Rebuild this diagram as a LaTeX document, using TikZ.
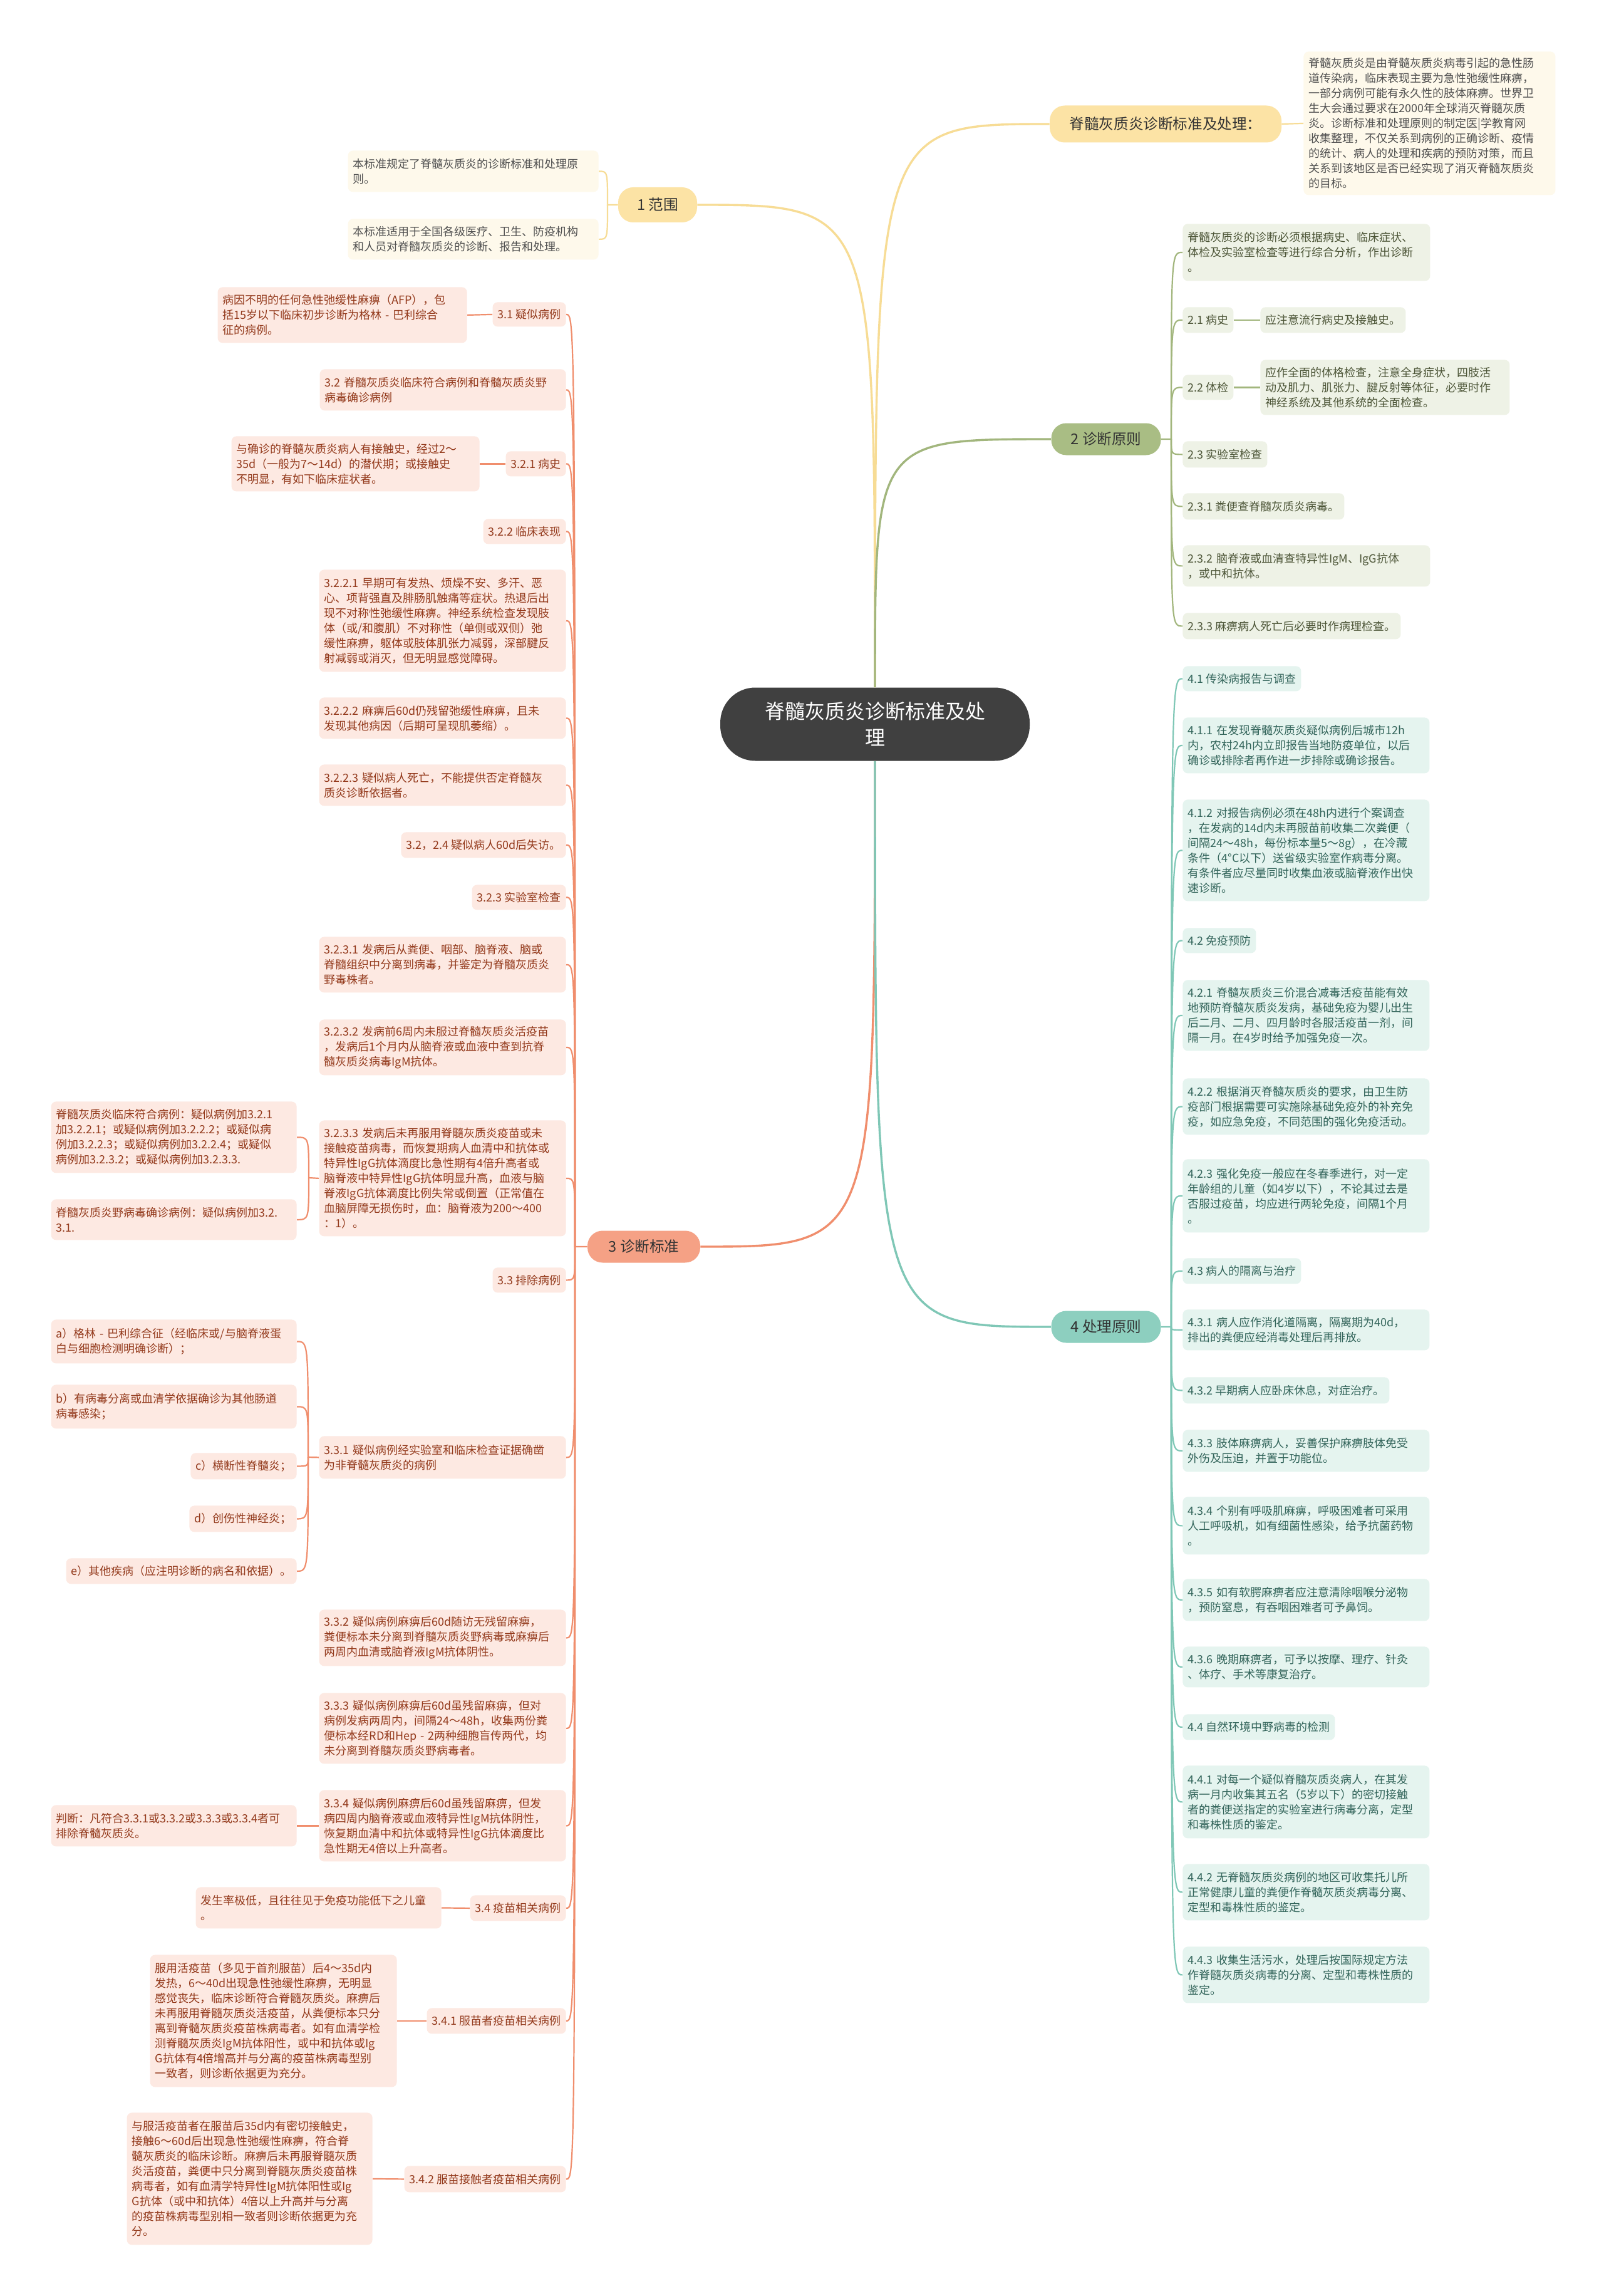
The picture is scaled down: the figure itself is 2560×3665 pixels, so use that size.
\documentclass[tikz,border=0pt]{standalone}
\usepackage{fontspec}
\setmainfont{Noto Sans CJK SC}
\usepackage{xcolor}
\usepackage{tikz}

\definecolor{ttl}{HTML}{404040}
\definecolor{pilltext}{HTML}{333333}
\definecolor{ylw}{HTML}{FCE3A5}
\definecolor{ylwline}{HTML}{F7DC95}
\definecolor{ylwleaf}{HTML}{FEF9EB}
\definecolor{ylwtext}{HTML}{505050}
\definecolor{grn}{HTML}{A9BD84}
\definecolor{grnline}{HTML}{A2B67D}
\definecolor{grnleaf}{HTML}{EEF2E6}
\definecolor{grntext}{HTML}{4C5537}
\definecolor{org}{HTML}{F5A185}
\definecolor{orgline}{HTML}{F08E6D}
\definecolor{orgleaf}{HTML}{FDE9E2}
\definecolor{orgtext}{HTML}{93391B}
\definecolor{tea}{HTML}{8DCFBF}
\definecolor{tealine}{HTML}{7FC7B6}
\definecolor{tealeaf}{HTML}{E5F4EF}
\definecolor{teatext}{HTML}{32645A}

\newcommand\leaffont{\fontsize{9pt}{12pt}\selectfont}
\newcommand\brfont{\fontsize{11.8pt}{14pt}\selectfont}
\newcommand\ttlfont{\fontsize{16pt}{21pt}\selectfont}

\tikzset{
  cell/.style={rounded corners=4pt, inner xsep=4pt, inner ysep=2pt, align=left, font=\leaffont},
  yleaf/.style={cell, fill=ylwleaf, text=ylwtext},
  gleaf/.style={cell, fill=grnleaf, text=grntext},
  oleaf/.style={cell, fill=orgleaf, text=orgtext},
  tleaf/.style={cell, fill=tealeaf, text=teatext},
  pill/.style={rounded corners=12pt, align=center, font=\brfont, text=pilltext, inner sep=2pt},
  ylink/.style={draw=ylwline, line width=1.1pt},
  glink/.style={draw=grnline, line width=1.1pt},
  olink/.style={draw=orgline, line width=1.1pt},
  tlink/.style={draw=tealine, line width=1.1pt},
  trunk/.style={line width=1.7pt},
}

\begin{document}
\begin{tikzpicture}[x=0.5pt, y=-0.5pt]
\fill[white] (0,0) rectangle (2560,3665);
\useasboundingbox (0,0) rectangle (2560,3665);

% centre and main branches
\node[fill=ttl, text=white, rounded corners=28pt, minimum width=247pt, minimum height=58.5pt, align=center, font=\ttlfont] (root) at (1397,1156) {脊髓灰质炎诊断标准及处\\理};
\node[pill, fill=ylw, minimum width=185pt, minimum height=29.5pt] (b0) at (1861,198) {脊髓灰质炎诊断标准及处理：};
\node[pill, fill=ylw, minimum width=63pt, minimum height=28pt] (b1) at (1050,327) {1 范围};
\node[pill, fill=grn, minimum width=87.5pt, minimum height=25.5pt] (b2) at (1766,701) {2 诊断原则};
\node[pill, fill=org, minimum width=90pt, minimum height=25.5pt] (b3) at (1028,1990) {3 诊断标准};
\node[pill, fill=tea, minimum width=87.5pt, minimum height=25.5pt] (b4) at (1766,2118) {4 处理原则};

% top right
\node[yleaf, anchor=north west, text width=193pt, minimum height=114.5pt] (intro) at (2081,82) {脊髓灰质炎是由脊髓灰质炎病毒引起的急性肠\\道传染病，临床表现主要为急性弛缓性麻痹，\\一部分病例可能有永久性的肢体麻痹。世界卫\\生大会通过要求在2000年全球消灭脊髓灰质\\炎。诊断标准和处理原则的制定医|学教育网\\收集整理，不仅关系到病例的正确诊断、疫情\\的统计、病人的处理和疾病的预防对策，而且\\关系到该地区是否已经实现了消灭脊髓灰质炎\\的目标。};

% 1 范围
\node[yleaf, anchor=north east, text width=192pt, minimum height=33pt] (y1a) at (956,240) {本标准规定了脊髓灰质炎的诊断标准和处理原\\则。};
\node[yleaf, anchor=north east, text width=192pt, minimum height=32.5pt] (y1b) at (956,349) {本标准适用于全国各级医疗、卫生、防疫机构\\和人员对脊髓灰质炎的诊断、报告和处理。};

% 2 诊断原则
\node[gleaf, anchor=north west, text width=189.5pt, minimum height=45.5pt] (g0) at (1888,357) {脊髓灰质炎的诊断必须根据病史、临床症状、\\体检及实验室检查等进行综合分析，作出诊断\\。};
\node[gleaf, anchor=north west, minimum height=20.5pt] (g1) at (1888,490) {2.1 病史};
\node[gleaf, anchor=north west, minimum height=20.5pt] (g1a) at (2012,490) {应注意流行病史及接触史。};
\node[gleaf, anchor=north west, minimum height=20pt] (g2) at (1888,598) {2.2 体检};
\node[gleaf, anchor=north west, text width=191pt, minimum height=44pt] (g2a) at (2012,574) {应作全面的体格检查，注意全身症状，四肢活\\动及肌力、肌张力、腱反射等体征，必要时作\\神经系统及其他系统的全面检查。};
\node[gleaf, anchor=north west, minimum height=21pt] (g3) at (1888,704) {2.3 实验室检查};
\node[gleaf, anchor=north west, minimum height=21pt] (g4) at (1888,787) {2.3.1 粪便查脊髓灰质炎病毒。};
\node[gleaf, anchor=north west, text width=189.5pt, minimum height=33pt] (g5) at (1888,870) {2.3.2 脑脊液或血清查特异性IgM、IgG抗体\\，或中和抗体。};
\node[gleaf, anchor=north west, minimum height=21pt] (g6) at (1888,978) {2.3.3 麻痹病人死亡后必要时作病理检查。};

% 4 处理原则
\node[tleaf, anchor=north west, minimum height=20pt] (t1) at (1888,1063) {4.1 传染病报告与调查};
\node[tleaf, anchor=north west, text width=189pt, minimum height=44.5pt] (t2) at (1888,1145) {4.1.1~在发现脊髓灰质炎疑似病例后城市12h\\内，农村24h内立即报告当地防疫单位，以后\\确诊或排除者再作进一步排除或确诊报告。};
\node[tleaf, anchor=north west, text width=189pt, minimum height=81pt] (t3) at (1888,1276) {4.1.2~对报告病例必须在48h内进行个案调查\\，在发病的14d内未再服苗前收集二次粪便（\\间隔24～48h，每份标本量5～8g），在冷藏\\条件（4°C以下）送省级实验室作病毒分离。\\有条件者应尽量同时收集血液或脑脊液作出快\\速诊断。};
\node[tleaf, anchor=north west, minimum height=20pt] (t4) at (1888,1481) {4.2 免疫预防};
\node[tleaf, anchor=north west, text width=189pt, minimum height=56.5pt] (t5) at (1888,1564) {4.2.1~脊髓灰质炎三价混合减毒活疫苗能有效\\地预防脊髓灰质炎发病，基础免疫为婴儿出生\\后二月、二月、四月龄时各服活疫苗一剂，间\\隔一月。在4岁时给予加强免疫一次。};
\node[tleaf, anchor=north west, text width=189pt, minimum height=45pt] (t6) at (1888,1721) {4.2.2~根据消灭脊髓灰质炎的要求，由卫生防\\疫部门根据需要可实施除基础免疫外的补充免\\疫，如应急免疫，不同范围的强化免疫活动。};
\node[tleaf, anchor=north west, text width=189pt, minimum height=58.5pt] (t7) at (1888,1850) {4.2.3~强化免疫一般应在冬春季进行，对一定\\年龄组的儿童（如4岁以下），不论其过去是\\否服过疫苗，均应进行两轮免疫，间隔1个月\\。};
\node[tleaf, anchor=north west, minimum height=20.5pt] (t8) at (1888,2008) {4.3 病人的隔离与治疗};
\node[tleaf, anchor=north west, text width=189pt, minimum height=32.5pt] (t9) at (1888,2090) {4.3.1~病人应作消化道隔离，隔离期为40d，\\排出的粪便应经消毒处理后再排放。};
\node[tleaf, anchor=north west, minimum height=21pt] (t10) at (1888,2198) {4.3.2 早期病人应卧床休息，对症治疗。};
\node[tleaf, anchor=north west, text width=189pt, minimum height=33.5pt] (t11) at (1888,2282) {4.3.3~肢体麻痹病人，妥善保护麻痹肢体免受\\外伤及压迫，并置于功能位。};
\node[tleaf, anchor=north west, text width=189pt, minimum height=46pt] (t12) at (1888,2389) {4.3.4~个别有呼吸肌麻痹，呼吸困难者可采用\\人工呼吸机，如有细菌性感染，给予抗菌药物\\。};
\node[tleaf, anchor=north west, text width=189pt, minimum height=33.5pt] (t13) at (1888,2520) {4.3.5~如有软腭麻痹者应注意清除咽喉分泌物\\，预防窒息，有吞咽困难者可予鼻饲。};
\node[tleaf, anchor=north west, text width=189pt, minimum height=32.5pt] (t14) at (1888,2628) {4.3.6~晚期麻痹者，可予以按摩、理疗、针灸\\、体疗、手术等康复治疗。};
\node[tleaf, anchor=north west, minimum height=20.5pt] (t15) at (1888,2736) {4.4 自然环境中野病毒的检测};
\node[tleaf, anchor=north west, text width=189pt, minimum height=58pt] (t16) at (1888,2818) {4.4.1~对每一个疑似脊髓灰质炎病人，在其发\\病一月内收集其五名（5岁以下）的密切接触\\者的粪便送指定的实验室进行病毒分离，定型\\和毒株性质的鉴定。};
\node[tleaf, anchor=north west, text width=189pt, minimum height=45pt] (t17) at (1888,2975) {4.4.2~无脊髓灰质炎病例的地区可收集托儿所\\正常健康儿童的粪便作脊髓灰质炎病毒分离、\\定型和毒株性质的鉴定。};
\node[tleaf, anchor=north west, text width=189pt, minimum height=45pt] (t18) at (1888,3107) {4.4.3~收集生活污水，处理后按国际规定方法\\作脊髓灰质炎病毒的分离、定型和毒株性质的\\鉴定。};

% 3 诊断标准
\node[oleaf, anchor=north east, minimum height=19.5pt] (o1) at (904,482) {3.1 疑似病例};
\node[oleaf, anchor=north east, text width=191pt, minimum height=44.5pt] (o1a) at (746,458) {病因不明的任何急性弛缓性麻痹（AFP），包\\括15岁以下临床初步诊断为格林~-~巴利综合\\征的病例。};
\node[oleaf, anchor=north east, text width=188.5pt, minimum height=33pt] (o2) at (904,589) {3.2~脊髓灰质炎临床符合病例和脊髓灰质炎野\\病毒确诊病例};
\node[oleaf, anchor=north east, minimum height=20pt] (o3) at (904,720) {3.2.1 病史};
\node[oleaf, anchor=north east, text width=190pt, minimum height=44pt] (o3a) at (766,696) {与确诊的脊髓灰质炎病人有接触史，经过2～\\35d（一般为7～14d）的潜伏期；或接触史\\不明显，有如下临床症状者。};
\node[oleaf, anchor=north east, minimum height=20pt] (o4) at (904,828) {3.2.2 临床表现};
\node[oleaf, anchor=north east, text width=189pt, minimum height=81.5pt] (o5) at (904,909) {3.2.2.1~早期可有发热、烦燥不安、多汗、恶\\心、项背强直及腓肠肌触痛等症状。热退后出\\现不对称性弛缓性麻痹。神经系统检查发现肢\\体（或/和腹肌）不对称性（单侧或双侧）弛\\缓性麻痹，躯体或肢体肌张力减弱，深部腱反\\射减弱或消灭，但无明显感觉障碍。};
\node[oleaf, anchor=north east, text width=189pt, minimum height=33pt] (o6) at (904,1113) {3.2.2.2~麻痹后60d仍残留弛缓性麻痹，且未\\发现其他病因（后期可呈现肌萎缩）。};
\node[oleaf, anchor=north east, text width=189pt, minimum height=33pt] (o7) at (904,1220) {3.2.2.3~疑似病人死亡，不能提供否定脊髓灰\\质炎诊断依据者。};
\node[oleaf, anchor=north east, minimum height=20.5pt] (o8) at (904,1328) {3.2，2.4 疑似病人60d后失访。};
\node[oleaf, anchor=north east, minimum height=20pt] (o9) at (904,1412) {3.2.3 实验室检查};
\node[oleaf, anchor=north east, text width=189pt, minimum height=44.5pt] (o10) at (904,1495) {3.2.3.1~发病后从粪便、咽部、脑脊液、脑或\\脊髓组织中分离到病毒，并鉴定为脊髓灰质炎\\野毒株者。};
\node[oleaf, anchor=north east, text width=189pt, minimum height=44.5pt] (o11) at (904,1627) {3.2.3.2~发病前6周内未服过脊髓灰质炎活疫苗\\，发病后1个月内从脑脊液或血液中查到抗脊\\髓灰质炎病毒IgM抗体。};
\node[oleaf, anchor=north east, text width=189pt, minimum height=92.5pt] (o12) at (904,1788) {3.2.3.3~发病后未再服用脊髓灰质炎疫苗或未\\接触疫苗病毒，而恢复期病人血清中和抗体或\\特异性IgG抗体滴度比急性期有4倍升高者或\\脑脊液中特异性IgG抗体明显升高，血液与脑\\脊液IgG抗体滴度比例失常或倒置（正常值在\\血脑屏障无损伤时，血：脑脊液为200～400\\：1）。};
\node[oleaf, anchor=north east, text width=188pt, minimum height=57pt] (o12a) at (474,1758) {脊髓灰质炎临床符合病例：疑似病例加3.2.1\\加3.2.2.1；或疑似病例加3.2.2.2；或疑似病\\例加3.2.2.3；或疑似病例加3.2.2.4；或疑似\\病例加3.2.3.2；或疑似病例加3.2.3.3.};
\node[oleaf, anchor=north east, text width=188pt, minimum height=32.5pt] (o12b) at (474,1914) {脊髓灰质炎野病毒确诊病例：疑似病例加3.2.\\3.1.};
\node[oleaf, anchor=north east, minimum height=20pt] (o13) at (904,2023) {3.3 排除病例};
\node[oleaf, anchor=north east, text width=189pt, minimum height=34pt] (o14) at (904,2292) {3.3.1~疑似病例经实验室和临床检查证据确凿\\为非脊髓灰质炎的病例};
\node[oleaf, anchor=north east, text width=188pt, minimum height=35pt] (o14a) at (474,2106) {a）格林~-~巴利综合征（经临床或/与脑脊液蛋\\白与细胞检测明确诊断）；};
\node[oleaf, anchor=north east, text width=188pt, minimum height=35pt] (o14b) at (474,2210) {b）有病毒分离或血清学依据确诊为其他肠道\\病毒感染；};
\node[oleaf, anchor=north east, minimum height=21pt] (o14c) at (474,2319) {c）横断性脊髓炎；};
\node[oleaf, anchor=north east, minimum height=21pt] (o14d) at (474,2403) {d）创伤性神经炎；};
\node[oleaf, anchor=north east, minimum height=20.5pt] (o14e) at (474,2487) {e）其他疾病（应注明诊断的病名和依据）。};
\node[oleaf, anchor=north east, text width=189pt, minimum height=45pt] (o15) at (904,2569) {3.3.2~疑似病例麻痹后60d随访无残留麻痹，\\粪便标本未分离到脊髓灰质炎野病毒或麻痹后\\两周内血清或脑脊液IgM抗体阴性。};
\node[oleaf, anchor=north east, text width=189pt, minimum height=56.5pt] (o16) at (904,2702) {3.3.3~疑似病例麻痹后60d虽残留麻痹，但对\\病例发病两周内，间隔24～48h，收集两份粪\\便标本经RD和Hep~-~2两种细胞盲传两代，均\\未分离到脊髓灰质炎野病毒者。};
\node[oleaf, anchor=north east, text width=189pt, minimum height=57pt] (o17) at (904,2857) {3.3.4~疑似病例麻痹后60d虽残留麻痹，但发\\病四周内脑脊液或血液特异性IgM抗体阴性，\\恢复期血清中和抗体或特异性IgG抗体滴度比\\急性期无4倍以上升高者。};
\node[oleaf, anchor=north east, text width=188pt, minimum height=33pt] (o17a) at (474,2881) {判断：凡符合3.3.1或3.3.2或3.3.3或3.3.4者可\\排除脊髓灰质炎。};
\node[oleaf, anchor=north east, minimum height=20.5pt] (o18) at (904,3025) {3.4 疫苗相关病例};
\node[oleaf, anchor=north east, text width=188pt, minimum height=33pt] (o18a) at (705,3012) {发生率极低，且往往见于免疫功能低下之儿童\\。};
\node[oleaf, anchor=north east, minimum height=20.5pt] (o19) at (904,3205) {3.4.1 服苗者疫苗相关病例};
\node[oleaf, anchor=north east, text width=189pt, minimum height=105.5pt] (o19a) at (634,3120) {服用活疫苗（多见于首剂服苗）后4～35d内\\发热，6～40d出现急性弛缓性麻痹，无明显\\感觉丧失，临床诊断符合脊髓灰质炎。麻痹后\\未再服用脊髓灰质炎活疫苗，从粪便标本只分\\离到脊髓灰质炎疫苗株病毒者。如有血清学检\\测脊髓灰质炎IgM抗体阳性，或中和抗体或Ig\\G抗体有4倍增高并与分离的疫苗株病毒型别\\一致者，则诊断依据更为充分。};
\node[oleaf, anchor=north east, minimum height=21pt] (o20) at (904,3457) {3.4.2 服苗接触者疫苗相关病例};
\node[oleaf, anchor=north east, text width=188pt, minimum height=105.5pt] (o20a) at (595,3372) {与服活疫苗者在服苗后35d内有密切接触史，\\接触6～60d后出现急性弛缓性麻痹，符合脊\\髓灰质炎的临床诊断。麻痹后未再服脊髓灰质\\炎活疫苗，粪便中只分离到脊髓灰质炎疫苗株\\病毒者，如有血清学特异性IgM抗体阳性或Ig\\G抗体（或中和抗体）4倍以上升高并与分离\\的疫苗株病毒型别相一致者则诊断依据更为充\\分。};

% spines
\coordinate (s1) at (970,327);
\coordinate (s2) at (1870,701);
\coordinate (s3) at (918,1990);
\coordinate (s4) at (1870,2118);
\coordinate (s312) at (493,1880);
\coordinate (s314) at (492,2326);

% trunk
\draw[ylink, trunk] (root.north) .. controls (root.north |- b0.west) .. (b0.west);
\draw[ylink, trunk] (root.north) .. controls (root.north |- b1.east) .. (b1.east);
\draw[glink, trunk] (root.north) .. controls (root.north |- b2.west) .. (b2.west);
\draw[olink, trunk] (root.south) .. controls (root.south |- b3.east) .. (b3.east);
\draw[tlink, trunk] (root.south) .. controls (root.south |- b4.west) .. (b4.west);

% yellow
\draw[ylink] (b0.east) -- (intro.west);
\draw[ylink] (b1.west) -- (s1) .. controls (s1 |- y1a.east) .. (y1a.east);
\draw[ylink] (s1) .. controls (s1 |- y1b.east) .. (y1b.east);

% green
\draw[glink] (b2.east) -- (s2) .. controls (s2 |- g0.west) .. (g0.west);
\draw[glink] (s2) .. controls (s2 |- g1.west) .. (g1.west);
\draw[glink] (s2) .. controls (s2 |- g2.west) .. (g2.west);
\draw[glink] (s2) .. controls (s2 |- g3.west) .. (g3.west);
\draw[glink] (s2) .. controls (s2 |- g4.west) .. (g4.west);
\draw[glink] (s2) .. controls (s2 |- g5.west) .. (g5.west);
\draw[glink] (s2) .. controls (s2 |- g6.west) .. (g6.west);
\draw[glink] (g1.east) -- (g1a.west);
\draw[glink] (g2.east) -- (g2a.west);

% teal
\draw[tlink] (b4.east) -- (s4) .. controls (s4 |- t1.west) .. (t1.west);
\draw[tlink] (s4) .. controls (s4 |- t2.west) .. (t2.west);
\draw[tlink] (s4) .. controls (s4 |- t3.west) .. (t3.west);
\draw[tlink] (s4) .. controls (s4 |- t4.west) .. (t4.west);
\draw[tlink] (s4) .. controls (s4 |- t5.west) .. (t5.west);
\draw[tlink] (s4) .. controls (s4 |- t6.west) .. (t6.west);
\draw[tlink] (s4) .. controls (s4 |- t7.west) .. (t7.west);
\draw[tlink] (s4) .. controls (s4 |- t8.west) .. (t8.west);
\draw[tlink] (s4) .. controls (s4 |- t9.west) .. (t9.west);
\draw[tlink] (s4) .. controls (s4 |- t10.west) .. (t10.west);
\draw[tlink] (s4) .. controls (s4 |- t11.west) .. (t11.west);
\draw[tlink] (s4) .. controls (s4 |- t12.west) .. (t12.west);
\draw[tlink] (s4) .. controls (s4 |- t13.west) .. (t13.west);
\draw[tlink] (s4) .. controls (s4 |- t14.west) .. (t14.west);
\draw[tlink] (s4) .. controls (s4 |- t15.west) .. (t15.west);
\draw[tlink] (s4) .. controls (s4 |- t16.west) .. (t16.west);
\draw[tlink] (s4) .. controls (s4 |- t17.west) .. (t17.west);
\draw[tlink] (s4) .. controls (s4 |- t18.west) .. (t18.west);

% orange
\draw[olink] (b3.west) -- (s3) .. controls (s3 |- o1.east) .. (o1.east);
\draw[olink] (s3) .. controls (s3 |- o2.east) .. (o2.east);
\draw[olink] (s3) .. controls (s3 |- o3.east) .. (o3.east);
\draw[olink] (s3) .. controls (s3 |- o4.east) .. (o4.east);
\draw[olink] (s3) .. controls (s3 |- o5.east) .. (o5.east);
\draw[olink] (s3) .. controls (s3 |- o6.east) .. (o6.east);
\draw[olink] (s3) .. controls (s3 |- o7.east) .. (o7.east);
\draw[olink] (s3) .. controls (s3 |- o8.east) .. (o8.east);
\draw[olink] (s3) .. controls (s3 |- o9.east) .. (o9.east);
\draw[olink] (s3) .. controls (s3 |- o10.east) .. (o10.east);
\draw[olink] (s3) .. controls (s3 |- o11.east) .. (o11.east);
\draw[olink] (s3) .. controls (s3 |- o12.east) .. (o12.east);
\draw[olink] (s3) .. controls (s3 |- o13.east) .. (o13.east);
\draw[olink] (s3) .. controls (s3 |- o14.east) .. (o14.east);
\draw[olink] (s3) .. controls (s3 |- o15.east) .. (o15.east);
\draw[olink] (s3) .. controls (s3 |- o16.east) .. (o16.east);
\draw[olink] (s3) .. controls (s3 |- o17.east) .. (o17.east);
\draw[olink] (s3) .. controls (s3 |- o18.east) .. (o18.east);
\draw[olink] (s3) .. controls (s3 |- o19.east) .. (o19.east);
\draw[olink] (s3) .. controls (s3 |- o20.east) .. (o20.east);
\draw[olink] (o1.west) -- (o1a.east);
\draw[olink] (o3.west) -- (o3a.east);
\draw[olink] (o17.west) -- (o17a.east);
\draw[olink] (o18.west) -- (o18a.east);
\draw[olink] (o19.west) -- (o19a.east);
\draw[olink] (o20.west) -- (o20a.east);
\draw[olink] (o12.west) -- (s312) .. controls (s312 |- o12a.east) .. (o12a.east);
\draw[olink] (s312) .. controls (s312 |- o12b.east) .. (o12b.east);
\draw[olink] (o14.west) -- (s314) .. controls (s314 |- o14a.east) .. (o14a.east);
\draw[olink] (s314) .. controls (s314 |- o14b.east) .. (o14b.east);
\draw[olink] (s314) .. controls (s314 |- o14c.east) .. (o14c.east);
\draw[olink] (s314) .. controls (s314 |- o14d.east) .. (o14d.east);
\draw[olink] (s314) .. controls (s314 |- o14e.east) .. (o14e.east);
\end{tikzpicture}
\end{document}
